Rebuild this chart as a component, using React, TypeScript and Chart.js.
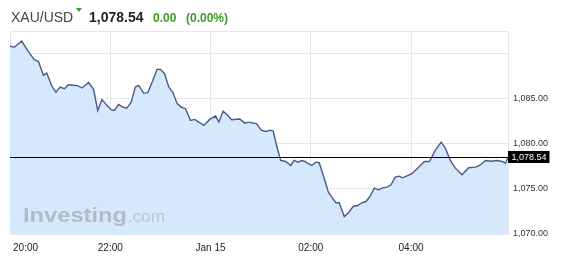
import React, { useEffect, useRef } from 'react';
import { Chart, registerables } from 'chart.js';

Chart.register(...registerables);

// minutes elapsed since 20:00 (Jan 14)
const minutesFrom2000 = [
  0, 5, 14, 21, 29, 34, 40, 44, 50, 55, 60, 65, 70, 76, 81, 86, 94, 100, 105, 110,
  116, 121, 125, 130, 135, 140, 145, 150, 154, 160, 165, 171, 176, 180, 185, 190, 195, 200, 205, 210,
  216, 221, 226, 232, 239, 246, 250, 255, 260, 265, 275, 281, 285, 295, 301, 307, 311, 315, 320, 324,
  330, 336, 340, 345, 349, 353, 357, 361, 366, 370, 375, 381, 390, 394, 400, 405, 411, 416, 421, 426,
  431, 436, 441, 446, 451, 456, 461, 466, 470, 481, 489, 496, 502, 509, 516, 521, 527, 533, 541, 549,
  557, 562, 569, 576, 583, 589, 593, 596,
];

const prices = [
  1090.84, 1090.69, 1091.39, 1090.36, 1089.33, 1089.14, 1087.59, 1087.84, 1086.40, 1085.73,
  1086.29, 1086.11, 1086.55, 1086.48, 1086.44, 1086.18, 1086.78, 1086.03, 1083.70, 1084.89,
  1084.26, 1083.78, 1083.70, 1084.37, 1084.07, 1083.96, 1084.62, 1086.29, 1086.48, 1085.62,
  1085.67, 1087.03, 1088.25, 1088.25, 1087.77, 1086.29, 1085.67, 1084.45, 1084.07, 1083.89,
  1082.59, 1082.70, 1082.40, 1082.04, 1082.70, 1083.07, 1082.40, 1083.62, 1083.22, 1082.67,
  1082.74, 1082.29, 1082.40, 1082.23, 1081.48, 1081.37, 1081.51, 1081.40, 1079.45, 1078.15,
  1078.04, 1077.60, 1078.15, 1077.96, 1078.15, 1078.04, 1077.79, 1077.60, 1077.96, 1077.90,
  1076.49, 1074.63, 1073.46, 1073.46, 1071.94, 1072.35, 1073.08, 1073.16, 1073.46, 1073.60,
  1074.19, 1075.08, 1074.90, 1075.12, 1075.19, 1075.46, 1076.30, 1076.41, 1076.23, 1076.68,
  1077.41, 1078.04, 1078.04, 1079.26, 1080.18, 1079.52, 1078.15, 1077.30, 1076.56, 1077.34,
  1077.41, 1077.60, 1078.15, 1078.07, 1078.15, 1078.04, 1077.85, 1078.54,
];

const xTickMinutes = [0, 120, 240, 360, 480];
const xTickLabels = ['20:00', '22:00', 'Jan 15', '02:00', '04:00'];
const yAxisMin = 1070;
const yAxisMax = 1092.5;
const yAxisStep = 5;
const yHiddenLabels = [1090];

const symbol = 'XAU/USD';
const lastPrice = 1078.54;
const changeText = '0.00';
const changePctText = '(0.00%)';

const FONT = 'Arial, "Liberation Sans", sans-serif';
const fmt = (v: number) =>
  v.toLocaleString('en-US', { minimumFractionDigits: 2, maximumFractionDigits: 2 });

export default function App() {
  const canvasRef = useRef<HTMLCanvasElement>(null);

  useEffect(() => {
    const canvas = canvasRef.current;
    if (!canvas) return;

    const overlay = {
      id: 'overlay',
      afterDatasetsDraw(chart: any) {
        const { ctx, chartArea } = chart;
        const xs = chart.scales.x;
        const ys = chart.scales.y;
        ctx.save();
        // watermark
        ctx.textBaseline = 'alphabetic';
        ctx.textAlign = 'left';
        ctx.font = `bold 20px ${FONT}`;
        const w = ctx.measureText('Investing').width;
        ctx.save();
        ctx.translate(chartArea.left + 13, 222);
        ctx.scale(104 / w, 1);
        ctx.fillStyle = '#b1bbca';
        ctx.fillText('Investing', 0, 0);
        ctx.restore();
        ctx.font = `17px ${FONT}`;
        ctx.fillStyle = '#bcc6d5';
        ctx.fillText('.com', chartArea.left + 118, 222);

        // last price line
        const py = Math.round(ys.getPixelForValue(lastPrice)) + 0.5;
        ctx.strokeStyle = '#000';
        ctx.lineWidth = 1;
        ctx.beginPath();
        ctx.moveTo(chartArea.left, py);
        ctx.lineTo(chartArea.right, py);
        ctx.stroke();
        // badge
        ctx.fillStyle = '#000';
        ctx.fillRect(chartArea.right, py - 6.5, 41.5, 12);
        ctx.fillStyle = '#fff';
        ctx.font = `9px ${FONT}`;
        ctx.textBaseline = 'middle';
        ctx.fillText(fmt(lastPrice), chartArea.right + 3.5, py + 0.5);

        // x labels
        ctx.fillStyle = '#222';
        ctx.font = `10px ${FONT}`;
        ctx.textBaseline = 'middle';
        xTickMinutes.forEach((m, i) => {
          const px = xs.getPixelForValue(m);
          if (i === 0) {
            ctx.textAlign = 'left';
            ctx.fillText(xTickLabels[i], chartArea.left + 3, 248);
          } else {
            ctx.textAlign = 'center';
            ctx.fillText(xTickLabels[i], px, 248);
          }
        });
        // plot top border
        ctx.strokeStyle = '#e3e7ee';
        ctx.beginPath();
        ctx.moveTo(chartArea.left, chartArea.top + 0.5);
        ctx.lineTo(chartArea.right, chartArea.top + 0.5);
        ctx.stroke();
        ctx.restore();
      },
    };

    const chart = new Chart(canvas, {
      type: 'line',
      data: {
        datasets: [
          {
            data: minutesFrom2000.map((m, i) => ({ x: m, y: prices[i] })),
            borderColor: '#4b588b',
            borderWidth: 1.4,
            backgroundColor: '#d6e8fb',
            fill: 'start',
            pointRadius: 0,
            tension: 0,
          },
        ],
      },
      options: {
        animation: false,
        responsive: false,
        devicePixelRatio: 1,
        layout: { padding: { left: 10, top: 31, right: 0, bottom: 0 } },
        plugins: { legend: { display: false }, tooltip: { enabled: false }, title: { display: false } },
        scales: {
          x: {
            type: 'linear',
            min: 0,
            max: 596,
            afterBuildTicks: (scale: any) => {
              scale.ticks = xTickMinutes.map((v) => ({ value: v }));
            },
            afterFit: (scale: any) => {
              scale.height = 25;
            },
            ticks: { display: false },
            grid: { color: '#e3e7ee', drawTicks: false, lineWidth: 1 },
            border: { display: true, color: '#e3e7ee' },
          },
          y: {
            position: 'right',
            min: yAxisMin,
            max: yAxisMax,
            afterFit: (scale: any) => {
              scale.width = 74;
            },
            ticks: {
              stepSize: yAxisStep,
              includeBounds: false,
              padding: 5,
              color: '#333',
              font: { family: FONT, size: 9 },
              callback: (v: any) => (yHiddenLabels.includes(Number(v)) ? '' : fmt(Number(v))),
            },
            grid: { color: '#e3e7ee', drawTicks: false, lineWidth: 1 },
            border: { display: true, color: '#e3e7ee' },
          },
        },
      },
      plugins: [overlay],
    } as any);

    return () => chart.destroy();
  }, []);

  const green = '#3a9d23';
  return (
    <div style={{ position: 'fixed', left: 0, top: 0, width: 582, height: 259, background: '#fff', fontFamily: FONT }}>
      <canvas ref={canvasRef} width={582} height={259} style={{ position: 'absolute', left: 0, top: 0 }} />
      <span style={{ position: 'absolute', left: 11, top: 10, fontSize: 14, lineHeight: '14px', color: '#444' }}>{symbol}</span>
      <div
        style={{
          position: 'absolute',
          left: 76,
          top: 8,
          width: 0,
          height: 0,
          borderLeft: '3px solid transparent',
          borderRight: '3px solid transparent',
          borderTop: '4px solid #2aa52a',
        }}
      />
      <span style={{ position: 'absolute', left: 89, top: 10, fontSize: 14, lineHeight: '14px', fontWeight: 'bold', color: '#222' }}>
        {fmt(lastPrice)}
      </span>
      <span style={{ position: 'absolute', left: 153, top: 12, fontSize: 12, lineHeight: '12px', fontWeight: 'bold', color: green }}>
        {changeText}
      </span>
      <span style={{ position: 'absolute', left: 186, top: 12, fontSize: 12, lineHeight: '12px', fontWeight: 'bold', color: green }}>
        {changePctText}
      </span>
    </div>
  );
}
